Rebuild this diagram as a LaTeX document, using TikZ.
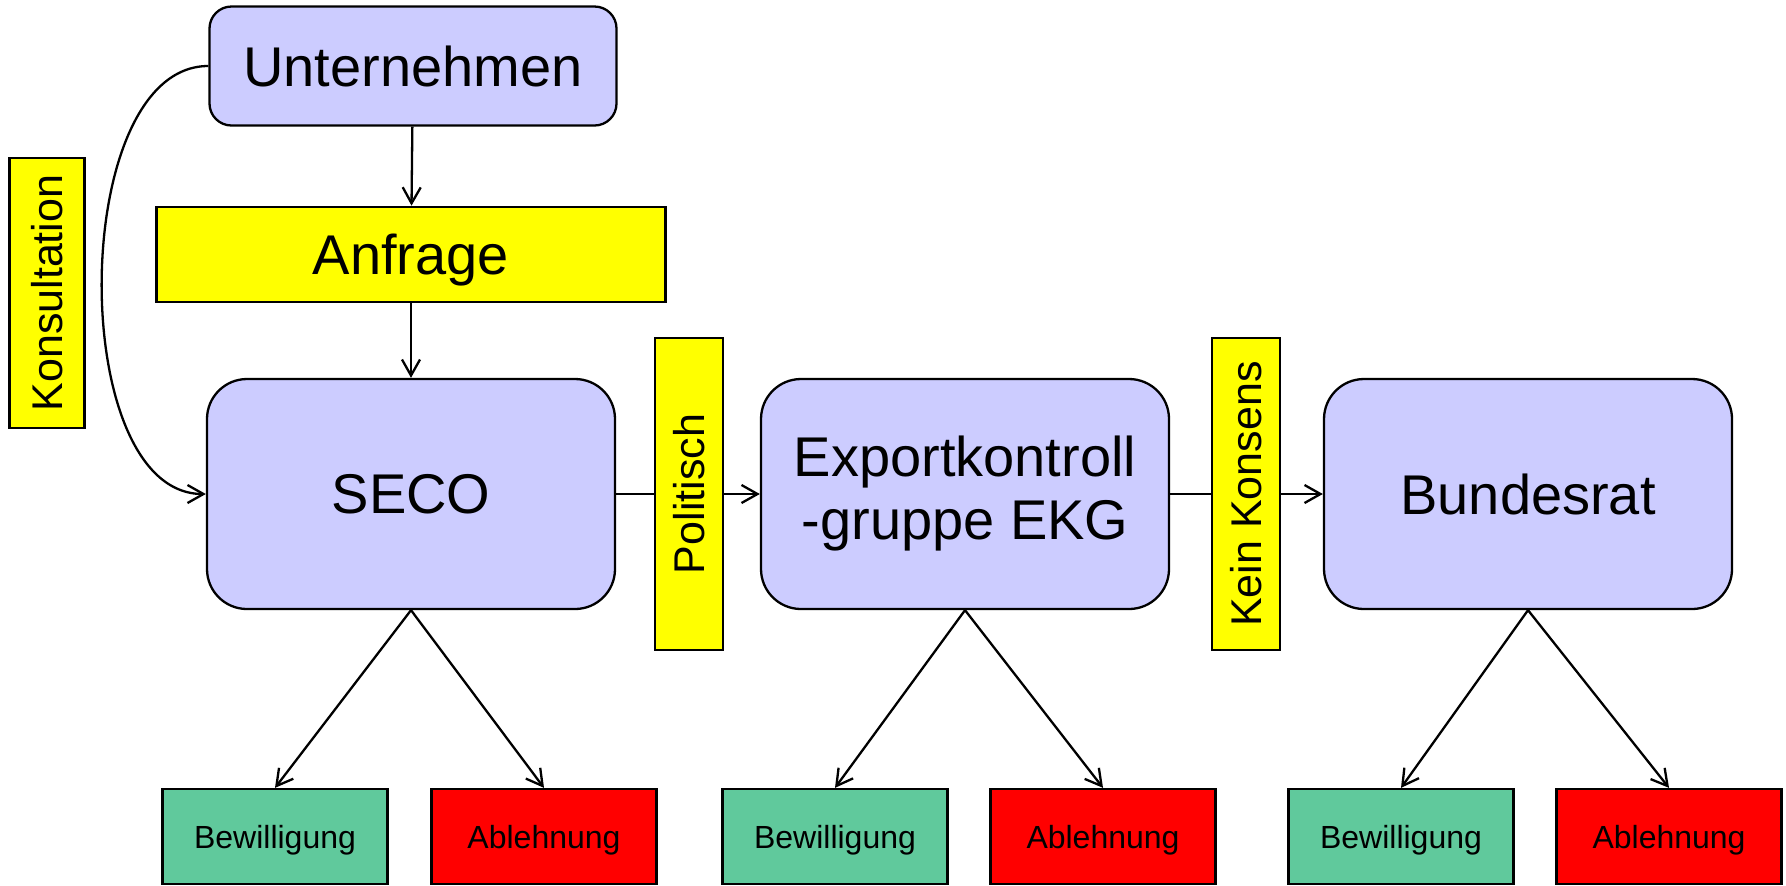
\documentclass[tikz,border=0pt]{standalone}
\usepackage{fontspec}
\setmainfont{Liberation Sans}
\usetikzlibrary{
	positioning,  %relative placement
	arrows.meta   %arrow tips
}
\definecolor{lila}{HTML}{CCCCFF}
\definecolor{gelb}{HTML}{FFFF00}
\definecolor{gruen}{HTML}{60C99C}
\definecolor{rot}{HTML}{FF0000}
\tikzset{
	every picture/.style={
		>={Straight Barb[length=8pt,width=9pt]},
		line width=1.15pt
}}
\begin{document}
\begin{tikzpicture}[x=0.5pt,y=-0.5pt]
\tikzstyle{main}=[rectangle, rounded corners=20pt, draw=black, fill=lila, minimum width=204pt, minimum height=115pt, align=center, font=\fontsize{28}{31.5}\selectfont]
\tikzstyle{tag}=[rectangle, draw=black, fill=gelb, inner sep=0pt, font=\fontsize{21.5}{24}\selectfont]
\tikzstyle{ok}=[rectangle, draw=black, fill=gruen, minimum width=112.5pt, minimum height=47.5pt, text depth=0pt, font=\fontsize{16}{18}\selectfont]
\tikzstyle{no}=[ok, fill=rot]
\tikzstyle{connect}=[->]
\useasboundingbox (0,0) rectangle (1786,885);
% top
\node[main, rounded corners=11pt, minimum width=203.5pt, minimum height=59.5pt] (unt) at (413,66) {Unternehmen};
\node[tag, minimum width=254.5pt, minimum height=47.5pt, text depth=0pt, font=\fontsize{28}{31.5}\selectfont] (anfrage) [below=39.5pt of unt, xshift=-1pt] {Anfrage};
% main row
\node[main] (seco) at (411,494) {SECO};
\node[main] (ekg) at (965,494) {Exportkontroll\\-gruppe EKG};
\node[main] (br) at (1528,494) {Bundesrat};
\path (unt) edge [connect] (anfrage)
(anfrage) edge [connect] (seco)
(seco) edge [connect] (ekg)
(ekg) edge [connect] (br);
\draw[connect] (unt.west) .. controls +(-140,0) and +(-140,0) .. (seco.west);
% yellow labels
\node[tag, rotate=90, minimum width=135pt, minimum height=37.5pt] (kons) at (47,293) {Konsultation};
\node[tag, rotate=90, minimum width=156pt, minimum height=34pt] (pol) at (689,494) {Politisch};
\node[tag, rotate=90, minimum width=156pt, minimum height=34pt] (kein) at (1246,494) {Kein Konsens};
% decisions
\foreach \n/\ja/\nein in {seco/275/544, ekg/835/1103, br/1401/1669} {
	\node[ok] (ja-\n) at (\ja,836.5) {Bewilligung};
	\node[no] (nein-\n) at (\nein,836.5) {Ablehnung};
	\draw[connect] (\n.south) -- (ja-\n.north);
	\draw[connect] (\n.south) -- (nein-\n.north);
}
\end{tikzpicture}
\end{document}
